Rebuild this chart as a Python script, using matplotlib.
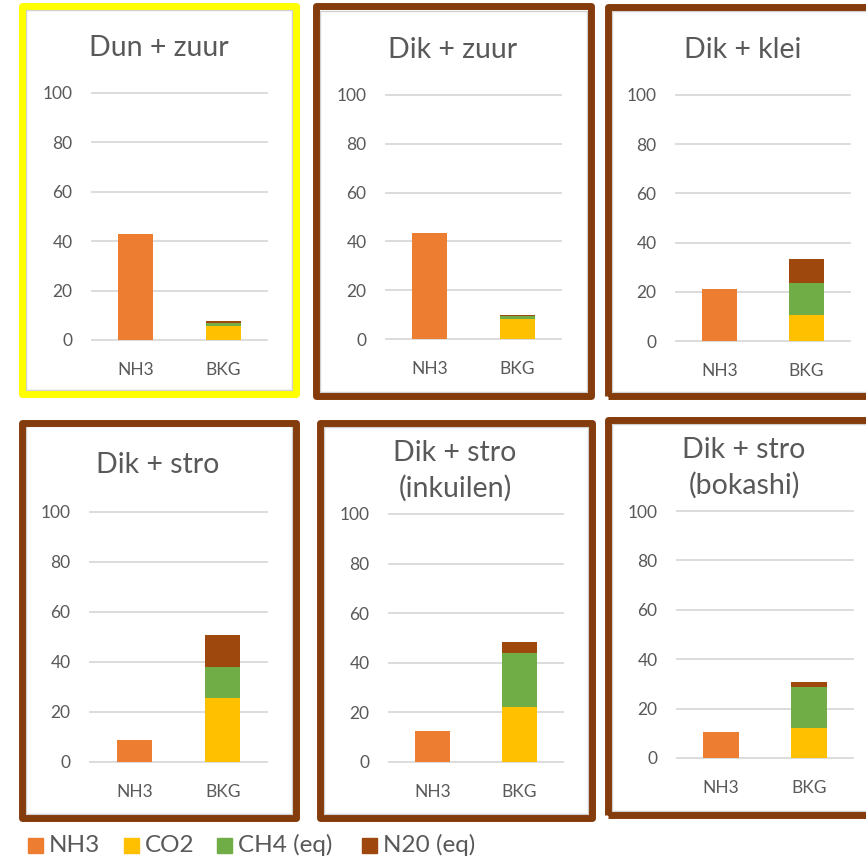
import matplotlib.pyplot as plt
from matplotlib.patches import Rectangle

# data
titles = ["Dun + zuur", "Dik + zuur", "Dik + klei",
          "Dik + stro", "Dik + stro\n(inkuilen)", "Dik + stro\n(bokashi)"]
cats = ["NH3", "BKG"]
nh3 = [43.0, 43.5, 21.0, 8.8, 12.4, 10.5]
co2 = [5.8, 8.1, 10.6, 25.6, 22.2, 12.1]
ch4 = [1.1, 1.3, 13.0, 12.4, 21.8, 16.6]
n2o = [0.6, 0.5, 9.7, 12.8, 4.5, 2.1]
legend_labels = ["NH3", "CO2", "CH4 (eq)", "N20 (eq)"]
yticks = [0, 20, 40, 60, 80, 100]

c_nh3 = '#ED7D31'
c_co2 = '#FFC000'
c_ch4 = '#70AD47'
c_n2o = '#9E480E'
txt = '#595959'
grid = '#D9D9D9'

plt.rcParams['font.family'] = ['Lato', 'DejaVu Sans']

W, H = 866, 859
fig = plt.figure(figsize=(W/100, H/100), dpi=100)

def fx(x):
    return x / W

def fy(y):
    return 1 - y / H

# panel frames (pixel centres of the thick border): x0, x1, y0, y1, colour
frames = [(21.5, 296, 6.5, 394, '#FFFF00'),
          (315.5, 590.5, 6.5, 395.5, '#843C0C'),
          (608, 884, 7.5, 396, '#843C0C'),
          (21.5, 296, 422.5, 818, '#843C0C'),
          (320, 592, 423, 818, '#843C0C'),
          (607.5, 884, 420, 815, '#843C0C')]
# plot areas: gridline x0, x1, y of 100, y of 0
plots = [(92, 267, 93, 340),
         (386, 561, 95, 339),
         (676, 850, 95, 341),
         (90, 267, 512, 762),
         (389, 563, 514, 762),
         (677, 853, 511, 758)]
# title centre (x, y) in pixels
title_xy = [(159, 48), (453, 50), (743, 50), (158, 465), (455, 471), (744, 468)]

for i in range(6):
    x0, x1, y0, y1, col = frames[i]
    fig.patches.append(Rectangle((fx(x0 + 4), fy(y1 - 4)), fx(x1 - x0 - 8), (y1 - y0 - 8) / H,
                                 transform=fig.transFigure, fill=False,
                                 edgecolor='#D0D0D0', lw=1.0))
    fig.patches.append(Rectangle((fx(x0), fy(y1)), fx(x1 - x0), (y1 - y0) / H,
                                 transform=fig.transFigure, fill=False,
                                 edgecolor=col, lw=5, joinstyle='round'))

    px0, px1, pt, pb = plots[i]
    ax = fig.add_axes([fx(px0), fy(pb), fx(px1 - px0), (pb - pt) / H])
    ax.bar(0, nh3[i], width=0.4, color=c_nh3, zorder=3)
    ax.bar(1, co2[i], width=0.4, color=c_co2, zorder=3)
    ax.bar(1, ch4[i], width=0.4, bottom=co2[i], color=c_ch4, zorder=3)
    ax.bar(1, n2o[i], width=0.4, bottom=co2[i] + ch4[i], color=c_n2o, zorder=3)
    ax.set_xlim(-0.5, 1.5)
    ax.set_ylim(0, 100)
    ax.set_yticks(yticks)
    ax.set_xticks([0, 1])
    ax.set_xticklabels(cats)
    ax.tick_params(axis='y', length=0, pad=14, labelsize=12.5, labelcolor=txt)
    ax.tick_params(axis='x', length=0, pad=16, labelsize=12.5, labelcolor=txt)
    ax.yaxis.grid(True, color=grid, lw=1.3, zorder=0)
    for gl in ax.get_ygridlines():
        gl.set_clip_on(False)
    for s in ax.spines.values():
        s.set_visible(False)
    ax.set_facecolor('none')

    tx, ty = title_xy[i]
    fig.text(fx(tx), fy(ty), titles[i], ha='center', va='center',
             fontsize=20.5, color=txt, linespacing=1.42)

# legend drawn along the bottom
leg_x = [28, 124, 217, 362]
leg_cols = [c_nh3, c_co2, c_ch4, c_n2o]
for lx, lc, lab in zip(leg_x, leg_cols, legend_labels):
    fig.patches.append(Rectangle((fx(lx), fy(853)), fx(15), 15 / H,
                                 transform=fig.transFigure, color=lc))
    fig.text(fx(lx + 21), fy(845), lab, ha='left', va='center', fontsize=17.5, color=txt)

fig.savefig('out.png', dpi=100, facecolor='white')
